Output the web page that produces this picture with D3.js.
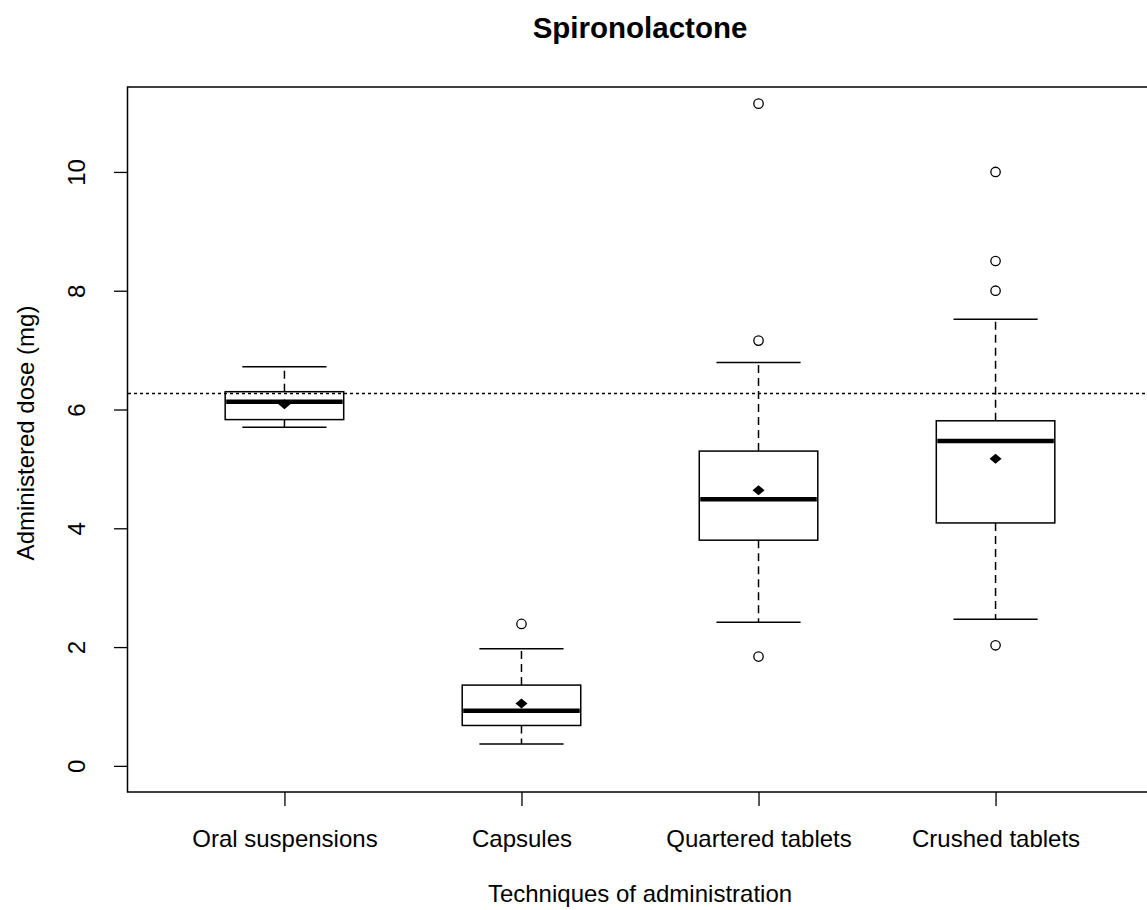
<!DOCTYPE html>
<html>
<head>
<meta charset="utf-8">
<script src="https://cdn.jsdelivr.net/npm/d3@7"></script>
<style>
  body { margin: 0; background: #fff; }
  text { font-family: "Liberation Sans", Arial, sans-serif; fill: #000; }
</style>
</head>
<body>
<div id="chart"></div>
<script>
// Boxplot : dose administrée selon la technique

const width = 1147;
const height = 910;

// données
const categories = ["Oral suspensions", "Capsules", "Quartered tablets", "Crushed tablets"];
const whiskerLow  = [5.70, 0.37, 2.42, 2.47];
const q1          = [5.83, 0.68, 3.80, 4.09];
const medians     = [6.13, 0.93, 4.49, 5.47];
const q3          = [6.30, 1.36, 5.30, 5.81];
const whiskerHigh = [6.72, 1.97, 6.79, 7.52];
const means       = [6.09, 1.05, 4.64, 5.17];
const outliers    = [[], [2.39], [11.15, 7.16, 1.84], [10.0, 8.5, 8.0, 2.03]];
const targetDose  = 6.27;
const yTicks      = [0, 2, 4, 6, 8, 10];

const boxes = categories.map((c, i) => ({
  name: c, pos: i + 1,
  lo: whiskerLow[i], q1: q1[i], med: medians[i], q3: q3[i], hi: whiskerHigh[i],
  mean: means[i], out: outliers[i]
}));

const svg = d3.select("#chart")
  .append("svg")
  .attr("width", width)
  .attr("height", height);

const plotLeft = 128, plotRight = 1152, plotTop = 87, plotBottom = 792;

const x = d3.scaleLinear().domain([0.34, 4.66]).range([plotLeft, plotRight]);
const y = d3.scaleLinear().domain([-0.44, 11.43]).range([plotBottom, plotTop]);

const boxW = 0.5;    // largeur de boîte en unités x
const capW = 0.355;  // largeur des moustaches

// Titre
svg.append("text")
  .attr("x", (plotLeft + plotRight) / 2)
  .attr("y", 38)
  .attr("text-anchor", "middle")
  .attr("font-size", 29.5)
  .attr("font-weight", "bold")
  .text("Spironolactone");

// Axe Y
const yAxis = svg.append("g")
  .attr("transform", `translate(${plotLeft},0)`)
  .call(d3.axisLeft(y).tickValues(yTicks).tickSize(14).tickFormat(d3.format("d")));
yAxis.select(".domain").remove();
yAxis.selectAll("line").attr("stroke", "#000").attr("stroke-width", 1.3);
yAxis.selectAll("text")
  .attr("x", null).attr("dy", null)
  .attr("transform", "translate(-43,0) rotate(-90)")
  .attr("text-anchor", "middle")
  .attr("font-size", 24)
  .attr("font-family", "Liberation Sans, Arial, sans-serif");

// Axe X
const xAxis = svg.append("g")
  .attr("transform", `translate(0,${plotBottom})`)
  .call(d3.axisBottom(x).tickValues([1, 2, 3, 4]).tickSize(14).tickFormat(d => categories[d - 1]));
xAxis.select(".domain").remove();
xAxis.selectAll("line").attr("stroke", "#000").attr("stroke-width", 1.3);
xAxis.selectAll("text")
  .attr("y", 55).attr("dy", null)
  .attr("font-size", 24)
  .attr("font-family", "Liberation Sans, Arial, sans-serif");

// Titres des axes
svg.append("text")
  .attr("x", (plotLeft + plotRight) / 2)
  .attr("y", 902)
  .attr("text-anchor", "middle")
  .attr("font-size", 24)
  .text("Techniques of administration");

svg.append("text")
  .attr("transform", "translate(34,433) rotate(-90)")
  .attr("text-anchor", "middle")
  .attr("font-size", 24)
  .text("Administered dose (mg)");

// Boîtes
const g = svg.append("g");
const box = g.selectAll("g.box")
  .data(boxes)
  .enter().append("g")
  .attr("class", "box");

// moustaches en tirets
box.append("line")
  .attr("x1", d => x(d.pos)).attr("x2", d => x(d.pos))
  .attr("y1", d => y(d.q3)).attr("y2", d => y(d.hi))
  .attr("stroke", "#000").attr("stroke-width", 1.5).attr("stroke-dasharray", "8,5");
box.append("line")
  .attr("x1", d => x(d.pos)).attr("x2", d => x(d.pos))
  .attr("y1", d => y(d.q1)).attr("y2", d => y(d.lo))
  .attr("stroke", "#000").attr("stroke-width", 1.5).attr("stroke-dasharray", "8,5");

// traits de fin
["hi", "lo"].forEach(k => {
  box.append("line")
    .attr("x1", d => x(d.pos - capW / 2)).attr("x2", d => x(d.pos + capW / 2))
    .attr("y1", d => y(d[k])).attr("y2", d => y(d[k]))
    .attr("stroke", "#000").attr("stroke-width", 1.5);
});

box.append("rect")
  .attr("x", d => x(d.pos - boxW / 2))
  .attr("width", d => x(d.pos + boxW / 2) - x(d.pos - boxW / 2))
  .attr("y", d => y(d.q3))
  .attr("height", d => y(d.q1) - y(d.q3))
  .attr("fill", "#fff")
  .attr("stroke", "#000").attr("stroke-width", 1.5);

// médiane
box.append("line")
  .attr("x1", d => x(d.pos - boxW / 2) + 1).attr("x2", d => x(d.pos + boxW / 2) - 1)
  .attr("y1", d => y(d.med)).attr("y2", d => y(d.med))
  .attr("stroke", "#000").attr("stroke-width", 4.5);

// moyenne (losange plein)
box.append("path")
  .attr("d", d => {
    const cx = x(d.pos), cy = y(d.mean);
    return `M${cx - 6},${cy} L${cx},${cy - 5} L${cx + 6},${cy} L${cx},${cy + 5} Z`;
  })
  .attr("fill", "#000");

// valeurs extrêmes
box.selectAll("circle")
  .data(d => d.out.map(v => ({ pos: d.pos, v })))
  .enter().append("circle")
  .attr("cx", d => x(d.pos))
  .attr("cy", d => y(d.v))
  .attr("r", 4.7)
  .attr("fill", "none")
  .attr("stroke", "#000").attr("stroke-width", 1.3);

// ligne de référence pointillée
svg.append("line")
  .attr("x1", plotLeft).attr("x2", plotRight)
  .attr("y1", y(targetDose)).attr("y2", y(targetDose))
  .attr("stroke", "#000").attr("stroke-width", 1.5).attr("stroke-dasharray", "3,3");

// cadre
svg.append("rect")
  .attr("x", plotLeft - 0.5).attr("y", plotTop)
  .attr("width", plotRight - plotLeft).attr("height", plotBottom - plotTop)
  .attr("fill", "none")
  .attr("stroke", "#000").attr("stroke-width", 1.5);
</script>
</body>
</html>
